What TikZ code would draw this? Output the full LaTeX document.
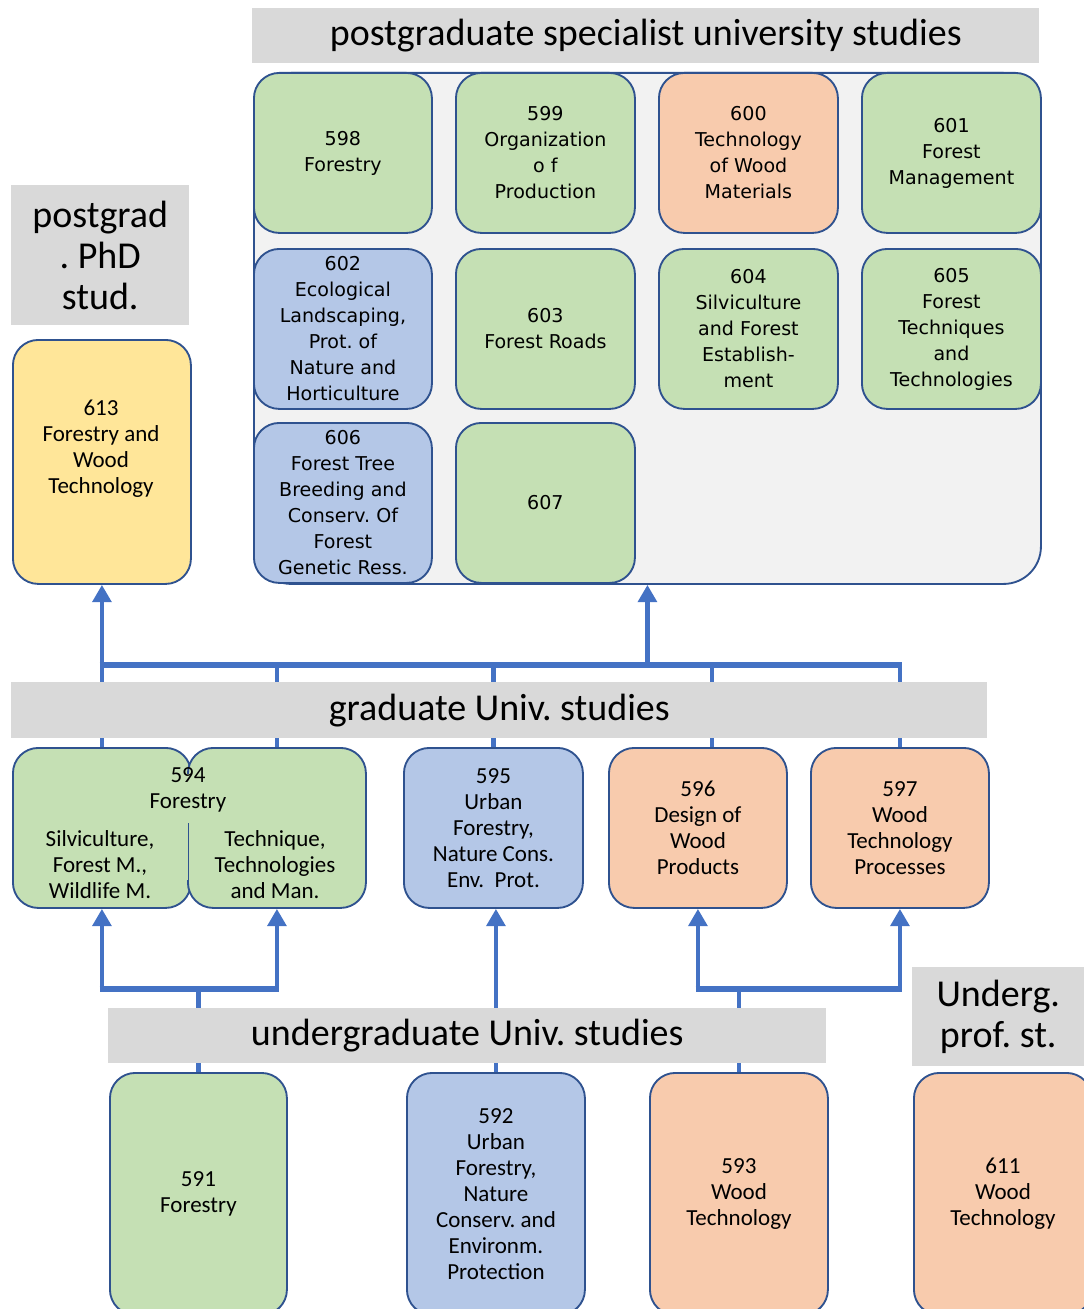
\documentclass[tikz,border=0pt]{standalone}
\usepackage{fontspec}
\setmainfont{Carlito}
\newfontfamily\dvs{DejaVu Sans}
\usetikzlibrary{arrows.meta,calc,backgrounds}
\definecolor{cgreen}{HTML}{C5E0B4}
\definecolor{cblue}{HTML}{B4C7E7}
\definecolor{corange}{HTML}{F8CBAD}
\definecolor{cyellow}{HTML}{FFE699}
\definecolor{cgray}{HTML}{D9D9D9}
\definecolor{clight}{HTML}{F2F2F2}
\definecolor{cedge}{HTML}{2F528F}
\definecolor{carrow}{HTML}{4472C4}
\frenchspacing
\begin{document}
\begin{tikzpicture}[x=0.75pt,y=-0.75pt,
  sz/.style 2 args={minimum width=#1*0.75pt, minimum height=#2*0.75pt},
  bx/.style={draw=cedge, line width=1.4pt, rounded corners=19pt, inner sep=0pt, anchor=north west, align=center},
  G/.style={bx, fill=cgreen},
  B/.style={bx, fill=cblue},
  O/.style={bx, fill=corange},
  fC/.style={font=\fontsize{17.25pt}{19.5pt}\selectfont},
  fD/.style={font=\dvs\fontsize{14.3pt}{19.5pt}\selectfont},
  gbar/.style={fill=cgray, inner sep=0pt, anchor=north west, align=center, font=\fontsize{28.5pt}{30.75pt}\selectfont},
  wire/.style={draw=carrow, line width=3.5pt},
  bus/.style={draw=carrow, line width=4.5pt},
  arr/.style={wire, -{Triangle[width=14pt,length=13pt]}},
]
\useasboundingbox (0,0) rectangle (1084,1309);
\clip (0,0) rectangle (1084,1309);

% ---- postgraduate specialist ----
\node[gbar, sz={787}{55}] (tpost) at (252,8) {postgraduate specialist university studies};
\node[bx, fill=clight, rounded corners=28pt, sz={787}{511}] (cont) at (253,72) {};
\node[G, fD, sz={178}{160}] (s598) at (253,72) {598\\Forestry};
\node[G, fD, sz={179}{160}] (s599) at (455,72) {599\\Organization\\o f\\Production};
\node[O, fD, sz={179}{160}] (s600) at (658,72) {600\\Technology\\of Wood\\Materials};
\node[G, fD, sz={179}{160}] (s601) at (861,72) {601\\Forest\\Management};
\node[B, fD, sz={178}{160}] (s602) at (253,248) {602\\Ecological\\Landscaping,\\Prot. of\\Nature and\\Horticulture};
\node[G, fD, sz={179}{160}] (s603) at (455,248) {603\\Forest Roads};
\node[G, fD, sz={179}{160}] (s604) at (658,248) {604\\Silviculture\\and Forest\\Establish-\\ment};
\node[G, fD, sz={179}{160}] (s605) at (861,248) {605\\Forest\\Techniques\\and\\Technologies};
\node[B, fD, sz={178}{160}] (s606) at (253,422) {606\\Forest Tree\\Breeding and\\Conserv. Of\\Forest\\Genetic Ress.};
\node[G, fD, sz={179}{160}] (s607) at (455,422) {607};

% ---- PhD ----
\node[gbar, sz={178}{140}] (tphd) at (11,185) {postgrad\\. PhD\\stud.};
\node[bx, fill=cyellow, sz={178}{244}] (p613) at (12,339) {};
\node[fC, align=center] (t613) at (101,449) {613\\Forestry and\\Wood\\Technology};

% ---- graduate ----
\node[gbar, sz={976}{56}] (tgrad) at (11,682) {graduate Univ. studies};
\node[G, sz={178}{160}] (g594L) at (12,747) {};
\node[G, sz={178}{160}] (g594R) at (187,747) {};
\fill[cgreen] (182,774) rectangle (195,880);
\draw[cedge, line width=1.4pt] (188.5,823) -- (188.5,882);
\node[fC, align=center] (t594) at (188,790) {594\\Forestry};
\node[fC, align=center] (t594a) at (100,865) {Silviculture,\\Forest M.,\\Wildlife M.};
\node[fC, align=center] (t594b) at (275,865) {Technique,\\Technologies\\and Man.};
\node[B, fC, sz={179}{160}] (g595) at (403,747) {595\\Urban\\Forestry,\\Nature Cons.\\Env.\ \ Prot.};
\node[O, fC, sz={178}{160}] (g596) at (608,747) {596\\Design of\\Wood\\Products};
\node[O, fC, sz={178}{160}] (g597) at (810,747) {597\\Wood\\Technology\\Processes};

% ---- undergraduate ----
\node[gbar, sz={718}{55}] (tugrad) at (108,1008) {undergraduate Univ. studies};
\node[gbar, sz={172}{99}] (tuprof) at (912,967) {Underg.\\prof. st.};
\node[G, fC, sz={177}{242}] (u591) at (109,1072) {591\\Forestry};
\node[B, fC, sz={178}{242}] (u592) at (406,1072) {592\\Urban\\Forestry,\\Nature\\Conserv. and\\Environm.\\Protection};
\node[O, fC, sz={178}{242}] (u593) at (649,1072) {593\\Wood\\Technology};
\node[O, fC, sz={178}{242}] (u611) at (913,1072) {611\\Wood\\Technology};

% ---- connectors ----
\coordinate (busU) at (0,665);
\coordinate (busL) at (0,989);
\coordinate (c596) at ($(g596.north)+(14,0)$);
\begin{pgfonlayer}{background}
\draw[wire] (g594L.north) -- ([yshift=-1.7pt]g594L.north |- busU);
\draw[wire] (g594R.north) -- (g594R.north |- busU);
\draw[wire] (g595.north) -- (g595.north |- busU);
\draw[wire] (c596) -- (c596 |- busU);
\draw[wire] (g597.north) -- ([yshift=-1.7pt]g597.north |- busU);
\draw[bus] ([xshift=-1.75pt]g594L.north |- busU) -- ([xshift=1.75pt]g597.north |- busU);
\draw[arr] (p613.south |- busU) -- (p613.south);
\draw[arr] (cont.south |- busU) -- (cont.south);
\draw[wire] (u591.north) -- (u591.north |- busL);
\draw[bus] ([xshift=-1.75pt]g594L.south |- busL) -- ([xshift=1.75pt]g594R.south |- busL);
\draw[arr] ([yshift=-1.7pt]g594L.south |- busL) -- (g594L.south);
\draw[arr] ([yshift=-1.7pt]g594R.south |- busL) -- (g594R.south);
\draw[arr] (u592.north) -- (u592.north |- g595.south);
\draw[wire] (u593.north) -- (u593.north |- busL);
\draw[bus] ([xshift=-1.75pt]g596.south |- busL) -- ([xshift=1.75pt]g597.south |- busL);
\draw[arr] ([yshift=-1.7pt]g596.south |- busL) -- (g596.south);
\draw[arr] ([yshift=-1.7pt]g597.south |- busL) -- (g597.south);
\end{pgfonlayer}
\end{tikzpicture}
\end{document}
